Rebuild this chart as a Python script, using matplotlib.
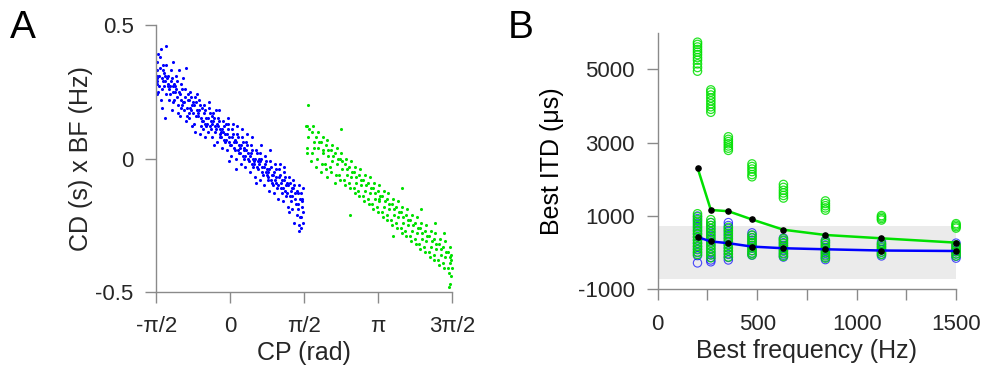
import numpy as np
import matplotlib.pyplot as plt

plt.rcParams['font.family'] = ['Liberation Sans', 'DejaVu Sans']

# Panel A: characteristic phase (rad) vs characteristic delay x best frequency
blue_pts = [
    (-1.56, 0.33), (-1.55, 0.28), (-1.57, 0.36), (-1.54, 0.25), (-1.52, 0.31), (-1.56, 0.30), (-1.53, 0.39), (-1.51, 0.27), (-1.57, 0.24), (-1.50, 0.34), (-1.55, 0.29), (-1.57, 0.31),
    (-1.47, 0.41), (-1.44, 0.29), (-1.46, 0.26), (-1.42, 0.32), (-1.48, 0.22), (-1.43, 0.35), (-1.45, 0.30), (-1.41, 0.27), (-1.46, 0.19), (-1.40, 0.31), (-1.49, 0.38), (-1.44, 0.33),
    (-1.37, 0.42), (-1.33, 0.28), (-1.36, 0.24), (-1.32, 0.31), (-1.38, 0.15), (-1.34, 0.30), (-1.31, 0.26), (-1.36, 0.35), (-1.30, 0.22), (-1.39, 0.29), (-1.33, 0.27),
    (-1.27, 0.29), (-1.23, 0.25), (-1.26, 0.33), (-1.22, 0.21), (-1.28, 0.27), (-1.24, 0.30), (-1.21, 0.36), (-1.25, 0.18), (-1.20, 0.28), (-1.29, 0.24), (-1.23, 0.27),
    (-1.17, 0.27), (-1.13, 0.23), (-1.16, 0.31), (-1.12, 0.20), (-1.18, 0.25), (-1.14, 0.29), (-1.11, 0.17), (-1.15, 0.26), (-1.10, 0.33), (-1.19, 0.22),
    (-1.07, 0.24), (-1.03, 0.20), (-1.06, 0.28), (-1.02, 0.26), (-1.08, 0.16), (-1.04, 0.22), (-1.01, 0.30), (-1.05, 0.19), (-1.09, 0.25), (-1.00, 0.21),
    (-0.97, 0.23), (-0.93, 0.19), (-0.96, 0.26), (-0.92, 0.16), (-0.98, 0.21), (-0.94, 0.14), (-0.91, 0.24), (-0.95, 0.34), (-0.99, 0.18), (-0.90, 0.22),
    (-0.87, 0.22), (-0.83, 0.18), (-0.86, 0.25), (-0.82, 0.20), (-0.88, 0.15), (-0.84, 0.23), (-0.81, 0.12), (-0.85, 0.19), (-0.89, 0.17), (-0.80, 0.21),
    (-0.77, 0.20), (-0.73, 0.16), (-0.76, 0.23), (-0.72, 0.18), (-0.78, 0.13), (-0.74, 0.21), (-0.71, 0.24), (-0.75, 0.10), (-0.79, 0.17),
    (-0.67, 0.18), (-0.63, 0.15), (-0.66, 0.22), (-0.62, 0.12), (-0.68, 0.17), (-0.64, 0.20), (-0.61, 0.14), (-0.65, 0.09), (-0.69, 0.16), (-0.60, 0.19),
    (-0.57, 0.17), (-0.53, 0.13), (-0.56, 0.20), (-0.52, 0.15), (-0.58, 0.11), (-0.54, 0.18), (-0.51, 0.12), (-0.55, 0.08), (-0.59, 0.14),
    (-0.47, 0.15), (-0.43, 0.12), (-0.46, 0.19), (-0.42, 0.14), (-0.48, 0.10), (-0.44, 0.17), (-0.41, 0.11), (-0.45, 0.21), (-0.49, 0.13), (-0.40, 0.16),
    (-0.37, 0.14), (-0.33, 0.10), (-0.36, 0.17), (-0.32, 0.12), (-0.38, 0.08), (-0.34, 0.15), (-0.31, 0.11), (-0.35, 0.05), (-0.39, 0.13), (-0.30, 0.18),
    (-0.27, 0.12), (-0.23, 0.09), (-0.26, 0.15), (-0.22, 0.11), (-0.28, 0.06), (-0.24, 0.14), (-0.21, 0.08), (-0.25, 0.18), (-0.20, 0.10), (-0.29, 0.13),
    (-0.17, 0.11), (-0.13, 0.07), (-0.16, 0.14), (-0.12, 0.09), (-0.18, 0.04), (-0.14, 0.12), (-0.11, 0.06), (-0.15, 0.10), (-0.19, 0.08), (-0.10, 0.13),
    (-0.07, 0.09), (-0.03, 0.06), (-0.06, 0.13), (-0.02, 0.08), (-0.08, 0.03), (-0.04, 0.11), (-0.01, 0.05), (-0.05, 0.15), (-0.03, -0.01), (-0.09, 0.07),
    (0.03, 0.08), (0.07, 0.04), (0.04, 0.11), (0.08, 0.06), (0.02, 0.01), (0.06, 0.09), (0.09, 0.03), (0.05, 0.13), (0.01, 0.05), (0.10, 0.07),
    (0.13, 0.06), (0.17, 0.03), (0.14, 0.09), (0.18, 0.05), (0.12, 0.00), (0.16, 0.08), (0.19, 0.02), (0.15, 0.12), (0.11, -0.04), (0.20, 0.04),
    (0.23, 0.05), (0.27, 0.01), (0.24, 0.08), (0.28, 0.03), (0.22, -0.02), (0.26, 0.06), (0.29, 0.00), (0.25, 0.11), (0.21, 0.02), (0.30, 0.04),
    (0.33, 0.03), (0.37, 0.00), (0.34, 0.06), (0.38, 0.02), (0.32, -0.03), (0.36, 0.05), (0.39, -0.01), (0.35, 0.09), (0.31, 0.01),
    (0.43, 0.02), (0.47, -0.02), (0.44, 0.05), (0.48, 0.00), (0.42, -0.05), (0.46, 0.03), (0.49, -0.03), (0.45, 0.08), (0.41, 0.01), (0.50, -0.01),
    (0.53, 0.00), (0.57, -0.03), (0.54, 0.03), (0.58, -0.01), (0.52, -0.07), (0.56, 0.02), (0.59, -0.04), (0.55, -0.09), (0.51, -0.02), (0.60, 0.00),
    (0.63, -0.01), (0.67, -0.05), (0.64, 0.02), (0.68, -0.03), (0.62, -0.08), (0.66, 0.00), (0.69, -0.06), (0.65, 0.05), (0.61, -0.02),
    (0.73, -0.02), (0.77, -0.06), (0.74, 0.01), (0.78, -0.04), (0.72, -0.10), (0.76, -0.01), (0.79, -0.08), (0.75, -0.05), (0.71, -0.03), (0.80, -0.07),
    (0.83, -0.04), (0.87, -0.08), (0.84, -0.01), (0.88, -0.06), (0.82, -0.12), (0.86, -0.03), (0.89, -0.09), (0.85, 0.03), (0.81, -0.05), (0.90, -0.10),
    (0.93, -0.05), (0.97, -0.09), (0.94, -0.02), (0.98, -0.07), (0.92, -0.13), (0.96, -0.04), (0.99, -0.11), (0.95, -0.08), (0.91, -0.06),
    (1.03, -0.07), (1.07, -0.11), (1.04, -0.04), (1.08, -0.09), (1.02, -0.15), (1.06, -0.06), (1.09, -0.13), (1.05, -0.02), (1.01, -0.10), (1.10, -0.08),
    (1.13, -0.08), (1.17, -0.12), (1.14, -0.05), (1.18, -0.10), (1.12, -0.16), (1.16, -0.07), (1.19, -0.14), (1.15, -0.03), (1.11, -0.11), (1.20, -0.09),
    (1.23, -0.10), (1.27, -0.14), (1.24, -0.07), (1.28, -0.12), (1.22, -0.18), (1.26, -0.09), (1.29, -0.16), (1.25, -0.20), (1.21, -0.13), (1.30, -0.11),
    (1.33, -0.11), (1.37, -0.15), (1.34, -0.08), (1.38, -0.13), (1.32, -0.19), (1.36, -0.10), (1.39, -0.17), (1.35, -0.24), (1.31, -0.14),
    (1.42, -0.12), (1.43, -0.17), (1.41, -0.21), (1.44, -0.13), (1.46, -0.25), (1.47, -0.27), (1.44, -0.19), (1.48, -0.15), (1.45, -0.10), (1.49, -0.22),
    (1.50, -0.13), (1.52, -0.18), (1.51, -0.22), (1.53, -0.15), (1.51, -0.26), (1.54, -0.11), (1.55, -0.20), (1.52, -0.16), (1.54, -0.24),
]

green_pts = [
    (1.63, 0.12), (1.66, 0.08), (1.64, 0.04), (1.67, 0.11), (1.65, 0.20), (1.62, 0.02), (1.61, 0.12),
    (1.73, 0.10), (1.77, 0.06), (1.74, 0.02), (1.76, 0.12), (1.72, -0.01), (1.78, 0.04),
    (1.83, 0.08), (1.87, 0.04), (1.84, 0.00), (1.86, 0.10), (1.82, -0.03), (1.88, 0.06),
    (1.93, 0.06), (1.97, 0.02), (1.94, -0.02), (1.96, 0.08), (1.92, -0.05), (1.98, 0.03),
    (2.03, 0.05), (2.07, 0.01), (2.04, -0.04), (2.06, 0.07), (2.02, -0.02), (2.08, 0.03), (2.05, -0.07),
    (2.13, 0.03), (2.17, -0.01), (2.14, -0.05), (2.16, 0.05), (2.12, -0.03), (2.18, 0.01),
    (2.23, 0.02), (2.27, -0.02), (2.24, -0.06), (2.26, 0.04), (2.22, -0.09), (2.28, 0.00),
    (2.33, 0.00), (2.37, -0.04), (2.34, -0.08), (2.36, 0.02), (2.32, -0.06), (2.38, -0.01), (2.35, 0.11),
    (2.43, -0.02), (2.47, -0.06), (2.44, -0.10), (2.46, 0.00), (2.42, -0.08), (2.48, -0.04),
    (2.53, -0.03), (2.57, -0.07), (2.54, -0.11), (2.56, -0.01), (2.52, -0.09), (2.58, -0.05), (2.55, -0.21),
    (2.63, -0.05), (2.67, -0.09), (2.64, -0.13), (2.66, -0.03), (2.62, -0.11), (2.68, -0.07),
    (2.73, -0.06), (2.77, -0.10), (2.74, -0.14), (2.76, -0.04), (2.72, -0.12), (2.78, -0.08),
    (2.83, -0.08), (2.87, -0.12), (2.84, -0.16), (2.86, -0.06), (2.82, -0.14), (2.88, -0.10),
    (2.93, -0.09), (2.97, -0.13), (2.94, -0.17), (2.96, -0.07), (2.92, -0.15), (2.98, -0.11),
    (3.03, -0.11), (3.07, -0.15), (3.04, -0.19), (3.06, -0.09), (3.02, -0.17), (3.08, -0.13),
    (3.13, -0.12), (3.17, -0.16), (3.14, -0.20), (3.16, -0.10), (3.12, -0.18), (3.18, -0.14), (3.15, -0.15),
    (3.23, -0.14), (3.27, -0.18), (3.24, -0.22), (3.26, -0.12), (3.22, -0.20), (3.28, -0.16),
    (3.33, -0.15), (3.37, -0.19), (3.34, -0.23), (3.36, -0.13), (3.32, -0.21), (3.38, -0.17),
    (3.43, -0.17), (3.47, -0.21), (3.44, -0.25), (3.46, -0.15), (3.42, -0.23), (3.48, -0.19), (3.45, -0.29),
    (3.53, -0.18), (3.57, -0.22), (3.54, -0.26), (3.56, -0.16), (3.52, -0.24), (3.58, -0.20),
    (3.63, -0.20), (3.67, -0.24), (3.64, -0.28), (3.66, -0.18), (3.62, -0.26), (3.68, -0.22), (3.65, -0.11),
    (3.73, -0.21), (3.77, -0.25), (3.74, -0.29), (3.76, -0.19), (3.72, -0.27), (3.78, -0.23),
    (3.83, -0.23), (3.87, -0.27), (3.84, -0.31), (3.86, -0.21), (3.82, -0.29), (3.88, -0.25),
    (3.93, -0.24), (3.97, -0.28), (3.94, -0.32), (3.96, -0.22), (3.92, -0.30), (3.98, -0.26),
    (4.03, -0.26), (4.07, -0.30), (4.04, -0.34), (4.06, -0.24), (4.02, -0.32), (4.08, -0.28), (4.05, -0.19),
    (4.13, -0.27), (4.17, -0.31), (4.14, -0.35), (4.16, -0.25), (4.12, -0.33), (4.18, -0.29),
    (4.23, -0.29), (4.27, -0.33), (4.24, -0.37), (4.26, -0.27), (4.22, -0.35), (4.28, -0.31),
    (4.33, -0.30), (4.37, -0.34), (4.34, -0.38), (4.36, -0.28), (4.32, -0.36), (4.38, -0.32), (4.35, -0.24),
    (4.43, -0.32), (4.47, -0.36), (4.44, -0.40), (4.46, -0.30), (4.42, -0.38), (4.48, -0.34),
    (4.53, -0.33), (4.57, -0.37), (4.54, -0.41), (4.56, -0.31), (4.52, -0.39), (4.58, -0.35), (4.55, -0.28),
    (4.63, -0.35), (4.67, -0.39), (4.64, -0.43), (4.66, -0.33), (4.62, -0.41), (4.68, -0.37), (4.64, -0.48), (4.66, -0.47),
    (4.70, -0.36), (4.71, -0.41), (4.70, -0.44), (4.69, -0.38),
]

# Panel B: best ITD (us) for each best frequency (Hz)
best_freq = [200, 267, 355, 474, 632, 843, 1125, 1500]
blue_itd = [
    [1000, 930, 860, 780, 700, 610, 520, 430, 340, 250, 160, 80, 0, -80, -280],
    [820, 740, 650, 560, 470, 380, 290, 200, 110, 20, -60, -130, -200, -250],
    [820, 740, 660, 580, 490, 400, 310, 220, 130, 40, -50, -130, -200],
    [540, 470, 400, 330, 260, 190, 120, 50, -20, -70],
    [400, 340, 270, 200, 130, 60, -10, -70, -120],
    [340, 280, 210, 140, 70, 0, -60, -130, -190],
    [300, 230, 160, 90, 20, -40, -90],
    [260, 200, 140, 80, 20, -40, -100, -150],
]
green_itd = [
    [1060, 980, 900, 820, 740, 660, 580, 500, 420, 340, 260, 180, 100, 20, -50,
     4950, 5050, 5150, 5250, 5320, 5400, 5470, 5540, 5610, 5680, 5740],
    [900, 820, 740, 660, 580, 500, 420, 340, 260, 180, 100, 20, -60, -140,
     3830, 3910, 3980, 4060, 4140, 4220, 4300, 4380, 4440],
    [690, 610, 530, 450, 370, 290, 210, 130, 50, -30, -120,
     2790, 2850, 2910, 2970, 3030, 3090, 3160],
    [480, 410, 340, 270, 200, 130, 60, -10, -60,
     2070, 2130, 2210, 2280, 2350, 2420],
    [380, 320, 250, 180, 110, 40, -30, -100,
     1490, 1560, 1630, 1700, 1780, 1860],
    [320, 260, 190, 120, 50, -20, -90, -150,
     1160, 1220, 1280, 1340, 1410],
    [250, 190, 130, 70, 10, -50,
     890, 930, 970, 1010],
    [210, 150, 90, 30, -30, -90,
     670, 710, 750, 790],
]
green_mean = [2320, 1164, 1130, 905, 625, 482, 391, 273]
blue_mean = [425, 305, 258, 165, 120, 92, 58, 45]
band_itd = 730

BLUE = '#0000ff'
GREEN = '#00e000'
AXC = '#8a8a8a'
TXC = '#262626'

fig = plt.figure(figsize=(9.83, 3.71), dpi=100)
ax1 = fig.add_axes([0.1592, 0.2129, 0.3006, 0.7197])
ax2 = fig.add_axes([0.6691, 0.2202, 0.3035, 0.6917])


def style(ax):
    for s in ['top', 'right']:
        ax.spines[s].set_visible(False)
    for s in ['left', 'bottom']:
        ax.spines[s].set_color(AXC)
        ax.spines[s].set_linewidth(1.0)
    ax.tick_params(direction='out', length=8, width=1.0, color=AXC,
                   labelcolor=TXC, labelsize=16, pad=8.5)
    ax.tick_params(axis='x', pad=9.5)


# Panel A scatter
bx, by = np.array(blue_pts).T
gx, gy = np.array(green_pts).T
ax1.scatter(bx, by, s=5, color=BLUE, linewidths=0, clip_on=False)
ax1.scatter(gx, gy, s=5, color=GREEN, linewidths=0, clip_on=False)
ax1.set_xlim(-np.pi / 2, 3 * np.pi / 2)
ax1.set_ylim(-0.5, 0.5)
ax1.set_xticks([-np.pi / 2, 0, np.pi / 2, np.pi, 3 * np.pi / 2])
ax1.set_xticklabels(['-π/2', '0', 'π/2', 'π', '3π/2'])
ax1.set_yticks([-0.5, 0, 0.5])
ax1.set_yticklabels(['-0.5', '0', '0.5'])
style(ax1)
ax1.set_xlabel('CP (rad)', fontsize=18, color=TXC, labelpad=3)
ax1.set_ylabel('CD (s) x BF (Hz)', fontsize=18, color=TXC, labelpad=2)

# Panel B
ax2.fill_between([0, 1500], -band_itd, band_itd, color='#ebebeb', lw=0, zorder=0)
for f, vals in zip(best_freq, blue_itd):
    ax2.scatter([f] * len(vals), vals, s=36, facecolors='none', edgecolors=BLUE,
                linewidths=0.8, alpha=0.7, clip_on=False, zorder=2)
for f, vals in zip(best_freq, green_itd):
    ax2.scatter([f] * len(vals), vals, s=36, facecolors='none', edgecolors=GREEN,
                linewidths=0.9, alpha=0.85, clip_on=False, zorder=3)
ax2.plot(best_freq, green_mean, color=GREEN, lw=1.8, zorder=4, clip_on=False)
ax2.plot(best_freq, blue_mean, color=BLUE, lw=1.8, zorder=4, clip_on=False)
ax2.scatter(best_freq, green_mean, s=14, color='black', zorder=5, clip_on=False)
ax2.scatter(best_freq, blue_mean, s=14, color='black', zorder=5, clip_on=False)
ax2.set_xlim(0, 1500)
ax2.set_ylim(-1000, 6000)
ax2.set_xticks([0, 250, 500, 750, 1000, 1250, 1500])
ax2.set_xticklabels(['0', '', '500', '', '1000', '', '1500'])
ax2.set_yticks([-1000, 1000, 3000, 5000])
ax2.set_yticklabels(['-1000', '1000', '3000', '5000'])
style(ax2)
ax2.set_xlabel('Best frequency (Hz)', fontsize=18, color=TXC, labelpad=3)
ax2.set_ylabel('Best ITD (μs)', fontsize=18, color='black', labelpad=10)

fig.text(0.0102, 0.8976, 'A', fontsize=28, color='black', va='baseline', ha='left')
fig.text(0.5168, 0.8976, 'B', fontsize=28, color='black', va='baseline', ha='left')

fig.savefig('out.png', dpi=100)
